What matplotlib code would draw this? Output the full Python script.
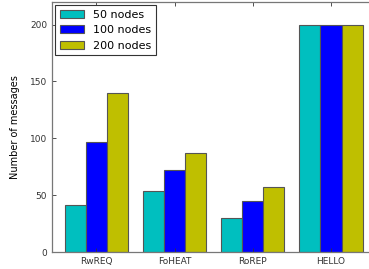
import numpy as np
import matplotlib
matplotlib.use('Agg')
import matplotlib.pyplot as plt

categories = ['RwREQ', 'FoHEAT', 'RoREP', 'HELLO']
nodes_50 = [41, 54, 30, 200]
nodes_100 = [97, 72, 45, 200]
nodes_200 = [140, 87, 57, 200]

ind = np.arange(len(categories))
width = 0.27

fig = plt.figure(figsize=(3.69, 2.69), dpi=100)
# the right spine sits just past the image edge in the reference
ax = fig.add_axes([0.141, 0.063, 0.87, 0.93])

edge = '#555555'
ax.bar(ind - width, nodes_50, width, color=(0, 0.75, 0.75), edgecolor=edge,
       linewidth=0.8, label='50 nodes')
ax.bar(ind, nodes_100, width, color=(0, 0, 1), edgecolor=edge,
       linewidth=0.8, label='100 nodes')
ax.bar(ind + width, nodes_200, width, color=(0.75, 0.75, 0), edgecolor=edge,
       linewidth=0.8, label='200 nodes')

ax.set_xlim(-0.568, 3.538)
ax.set_ylim(0, 220)
ax.set_xticks(ind)
ax.set_xticklabels(categories)
ax.set_yticks([0, 50, 100, 150, 200])
ax.tick_params(direction='in', top=True, right=False, labelsize=6.5,
               colors='#333333', length=3, width=0.6)
for s in ax.spines.values():
    s.set_color('#777777')
    s.set_linewidth(0.9)

ax.set_ylabel('Number of messages', fontsize=7, labelpad=7)

leg = ax.legend(loc='upper left', fontsize=8, handlelength=2.2,
                borderaxespad=0.3, fancybox=False, framealpha=1)
leg.get_frame().set_edgecolor('#333333')
leg.get_frame().set_linewidth(0.8)

fig.savefig('out.png', dpi=100)
